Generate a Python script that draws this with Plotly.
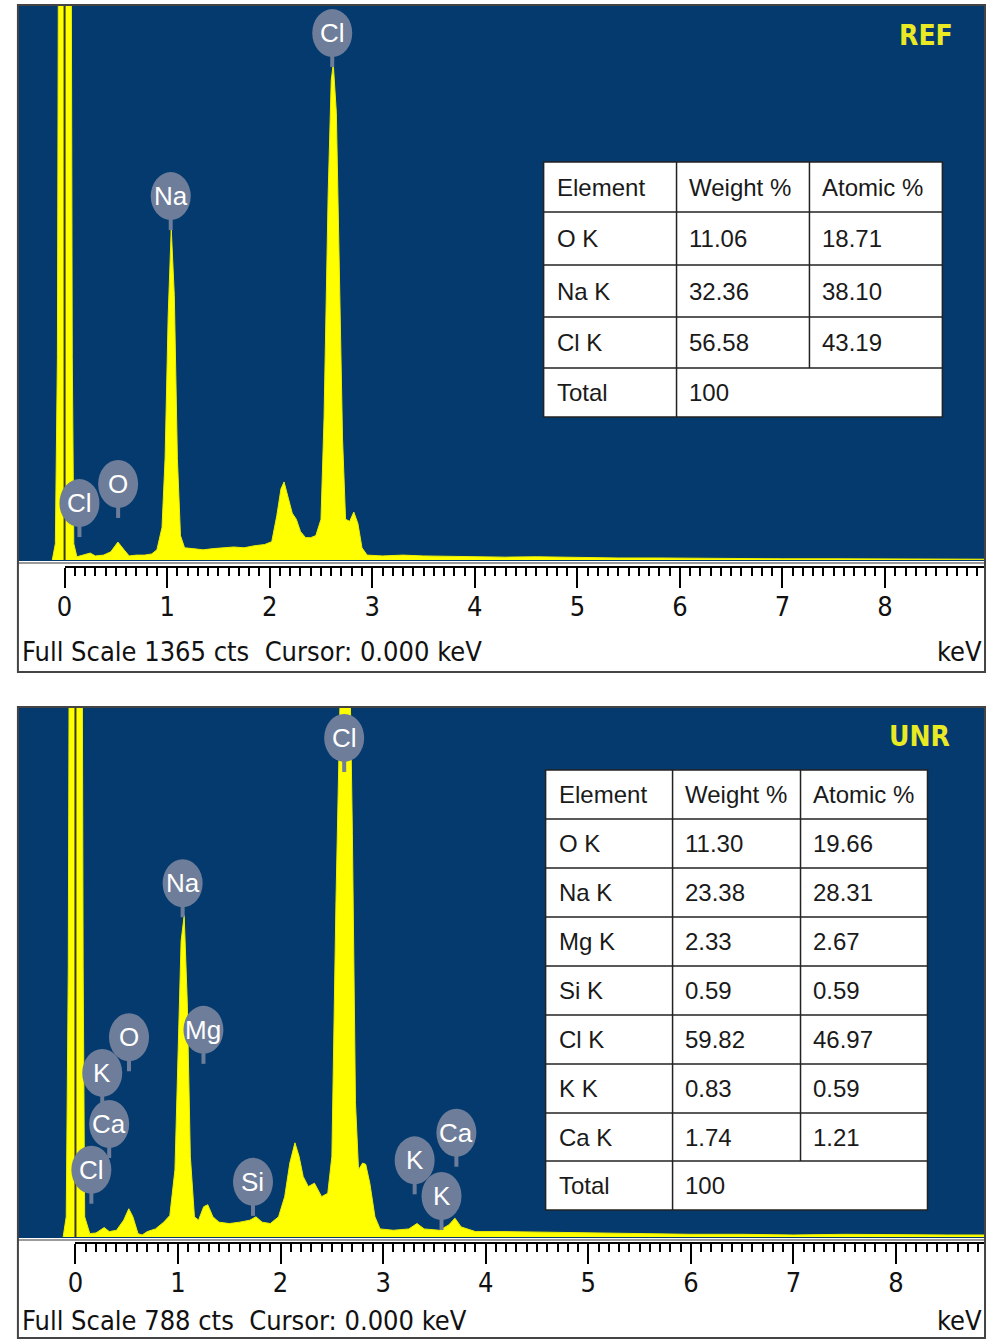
import plotly.graph_objects as go

W, H = 987, 1342

# ---------------- data ----------------
ref_keV = [-0.12, -0.09, -0.07, -0.055, 0.0, 0.06, 0.075, 0.09, 0.12, 0.18, 0.25, 0.30, 0.38, 0.45, 0.52,
           0.58, 0.63, 0.70, 0.78, 0.85, 0.90, 0.95, 0.98, 1.01, 1.04, 1.07, 1.10, 1.13, 1.17, 1.25,
           1.35, 1.45, 1.55, 1.65, 1.75, 1.85, 1.95, 2.02, 2.07, 2.11, 2.14, 2.18, 2.22, 2.26, 2.30,
           2.35, 2.40, 2.45, 2.50, 2.53, 2.57, 2.60, 2.62, 2.65, 2.68, 2.71, 2.74, 2.78, 2.82, 2.86,
           2.90, 2.95, 3.1, 3.3, 3.5, 3.7, 4.0, 4.3, 4.6, 5.0, 5.4, 5.8, 6.2, 6.6, 7.0, 7.5, 8.0, 8.5, 8.97]
ref_cts = [0, 40, 500, 2000, 2000, 2000, 500, 40, 8, 12, 17, 10, 12, 20, 44,
           25, 10, 12, 12, 15, 25, 80, 250, 600, 815, 650, 250, 60, 30, 28,
           25, 28, 30, 32, 30, 35, 38, 45, 110, 175, 192, 150, 115, 100, 70,
           55, 55, 60, 100, 350, 900, 1180, 1220, 1100, 700, 300, 100, 95, 118, 90,
           30, 12, 10, 12, 10, 9, 8, 7, 8, 6, 5, 5, 4, 4, 3, 3, 3, 2, 2]

unr_keV = [-0.12, -0.09, -0.07, -0.055, 0.0, 0.06, 0.075, 0.09, 0.14, 0.20, 0.28, 0.33, 0.40, 0.47, 0.52, 0.56,
           0.61, 0.65, 0.70, 0.78, 0.86, 0.92, 0.97, 1.00, 1.03, 1.06, 1.09, 1.12, 1.16, 1.20, 1.25,
           1.29, 1.34, 1.40, 1.50, 1.60, 1.70, 1.76, 1.82, 1.90, 1.98, 2.04, 2.09, 2.14, 2.18, 2.22,
           2.27, 2.33, 2.40, 2.46, 2.50, 2.54, 2.58, 2.62, 2.66, 2.70, 2.73, 2.76, 2.80, 2.83, 2.87,
           2.92, 2.97, 3.10, 3.25, 3.33, 3.40, 3.55, 3.64, 3.70, 3.76, 3.90, 4.2, 4.6, 5.0, 5.5, 6.0,
           6.5, 7.0, 7.5, 8.0, 8.5, 8.87]
unr_cts = [0, 30, 400, 1200, 1200, 1200, 400, 30, 5, 6, 14, 8, 10, 25, 42, 30,
           5, 3, 8, 12, 22, 32, 100, 280, 440, 478, 350, 120, 30, 25, 45,
           48, 30, 22, 20, 22, 25, 30, 22, 20, 30, 60, 110, 140, 120, 90,
           75, 80, 60, 65, 120, 500, 900, 1100, 1000, 600, 200, 100, 110, 108, 80,
           30, 12, 10, 12, 20, 12, 10, 18, 28, 15, 8, 8, 7, 6, 5, 4,
           4, 3, 4, 3, 3, 3]

tick_values = [0, 1, 2, 3, 4, 5, 6, 7, 8]
tick_labels = ["0", "1", "2", "3", "4", "5", "6", "7", "8"]

table_header = ["Element", "Weight %", "Atomic %"]
ref_elements = ["O K", "Na K", "Cl K"]
ref_weight = ["11.06", "32.36", "56.58"]
ref_atomic = ["18.71", "38.10", "43.19"]
ref_total = "100"

unr_elements = ["O K", "Na K", "Mg K", "Si K", "Cl K", "K K", "Ca K"]
unr_weight = ["11.30", "23.38", "2.33", "0.59", "59.82", "0.83", "1.74"]
unr_atomic = ["19.66", "28.31", "2.67", "0.59", "46.97", "0.59", "1.21"]
unr_total = "100"

ref_lbl = ["Cl", "Na", "Cl", "O"]
ref_lbl_keV = [2.61, 1.035, 0.145, 0.522]
ref_lbl_cts = [1296, 895, 140, 187]

unr_lbl = ["Cl", "Na", "Mg", "O", "Ca", "K", "Cl", "Si", "K", "Ca", "K"]
unr_lbl_keV = [2.62, 1.045, 1.248, 0.522, 0.329, 0.261, 0.155, 1.731, 3.307, 3.714, 3.569]
unr_lbl_cts = [742, 526, 308, 297, 168, 244, 100, 82, 114, 155, 61]

ref_scale = 1365
unr_scale = 788

# ---------------- style ----------------
BG = "#043a6e"
YEL = "#ffff00"
BALLOON = "#6e7d99"
NARROW = "Liberation Sans Narrow, Arial Narrow, DejaVu Sans Condensed, sans-serif"
SANS = "Liberation Sans, Arial, sans-serif"


def fx(px):
    return px / W


def fy(py):
    return 1 - py / H


fig = go.Figure()
shapes = []
annots = []

panels = [
    dict(name="REF", keV=ref_keV, cts=ref_cts, scale=ref_scale, xr=[-0.455, 8.975],
         top=5, base=560, bottom=561, axis_y=567, frame_bot=672, label_y=651,
         xa="x", ya="y", xa_ax="x3", lbl=ref_lbl, lk=ref_lbl_keV, lc=ref_lbl_cts,
         tag_x=925, tag_y=35,
         table=dict(x=[540, 674, 808, 942], y=[162, 212, 265, 317, 368, 417],
                    el=ref_elements, w=ref_weight, a=ref_atomic, tot=ref_total)),
    dict(name="UNR", keV=unr_keV, cts=unr_cts, scale=unr_scale, xr=[-0.561, 8.868],
         top=707, base=1237, bottom=1238, axis_y=1243, frame_bot=1338, label_y=1320,
         xa="x2", ya="y2", xa_ax="x4", lbl=unr_lbl, lk=unr_lbl_keV, lc=unr_lbl_cts,
         tag_x=919, tag_y=736,
         table=dict(x=[542, 670, 799, 927],
                    y=[770, 819, 868, 917, 966, 1015, 1064, 1113, 1161, 1210],
                    el=unr_elements, w=unr_weight, a=unr_atomic, tot=unr_total)),
]

layout_axes = {}
for i, p in enumerate(panels):
    xdom = [fx(10), fx(985)]
    ydom = [fy(p["bottom"]), fy(p["top"])]
    cpp = p["scale"] / (p["base"] - p["top"])
    yr = [-(p["bottom"] - p["base"]) * cpp, p["scale"]]
    xkey = "xaxis" if i == 0 else "xaxis2"
    ykey = "yaxis" if i == 0 else "yaxis2"
    layout_axes[xkey] = dict(domain=xdom, range=p["xr"], visible=False, fixedrange=True,
                             anchor=p["ya"])
    layout_axes[ykey] = dict(domain=ydom, range=yr, visible=False, fixedrange=True,
                             anchor=p["xa"])
    r0, r1 = p["xr"]
    x0frac = xdom[0] + (0 - r0) / (r1 - r0) * (xdom[1] - xdom[0])
    axkey = "xaxis3" if i == 0 else "xaxis4"
    layout_axes[axkey] = dict(domain=[x0frac, xdom[1]], range=[0, r1], anchor="free",
                              position=fy(p["axis_y"]), showline=True, linecolor="black",
                              linewidth=2, ticks="outside", ticklen=20, tickwidth=2,
                              tickcolor="black", tickvals=tick_values, ticktext=tick_labels,
                              tickfont=dict(family=NARROW, size=27, color="#111"),
                              ticklabelstandoff=-4,
                              showgrid=False, zeroline=False, fixedrange=True,
                              minor=dict(tickvals=[k / 10 for k in range(0, 90) if k % 10],
                                         ticks="outside", ticklen=8, tickwidth=1.5,
                                         tickcolor="black", showgrid=False))

    shapes.append(dict(type="rect", xref="paper", yref="paper", x0=xdom[0], x1=xdom[1],
                       y0=ydom[0], y1=ydom[1], fillcolor=BG, line=dict(width=0), layer="below"))

    fig.add_trace(go.Scatter(x=p["keV"], y=p["cts"], xaxis=p["xa"], yaxis=p["ya"], mode="lines",
                             line=dict(color="#eeee00", width=1), fill="tozeroy",
                             fillcolor=YEL, hoverinfo="skip", showlegend=False))
    fig.add_trace(go.Scatter(x=[0], y=[0], xaxis=p["xa_ax"], yaxis=p["ya"], mode="markers",
                             marker=dict(opacity=0), hoverinfo="skip", showlegend=False))

    # cursor line at 0 keV
    shapes.append(dict(type="line", xref=p["xa"], yref=p["ya"], x0=0, x1=0, y0=0, y1=p["scale"],
                       line=dict(color="#3a3a18", width=2), layer="above"))

    shapes.append(dict(type="line", xref="paper", yref="paper", x0=fx(10), x1=fx(985),
                       y0=fy(p["bottom"] + 2), y1=fy(p["bottom"] + 2),
                       line=dict(color="#9a9a9a", width=2)))
    shapes.append(dict(type="rect", xref="paper", yref="paper", x0=fx(10), x1=fx(985),
                       y0=fy(p["frame_bot"]), y1=fy(p["top"]),
                       line=dict(color="#444", width=2)))

    annots.append(dict(xref="paper", yref="paper", x=fx(12), y=fy(p["label_y"]),
                       xanchor="left", yanchor="middle", showarrow=False,
                       text="Full Scale %d cts&nbsp; Cursor: 0.000 keV" % p["scale"],
                       font=dict(family=NARROW, size=27, color="#111")))
    annots.append(dict(xref="paper", yref="paper", x=fx(984), y=fy(p["label_y"]),
                       xanchor="right", yanchor="middle", showarrow=False, text="keV",
                       font=dict(family=NARROW, size=27, color="#111")))

    annots.append(dict(xref="paper", yref="paper", x=fx(p["tag_x"]), y=fy(p["tag_y"]),
                       xanchor="center", yanchor="middle", showarrow=False,
                       text="<b>%s</b>" % p["name"],
                       font=dict(family=NARROW, size=28, color="#e9e924")))

    for t, k, c in zip(p["lbl"], p["lk"], p["lc"]):
        shapes.append(dict(type="rect", xref=p["xa"], yref=p["ya"], xsizemode="pixel",
                           ysizemode="pixel", xanchor=k, yanchor=c, x0=-2, x1=2, y0=-34, y1=-18,
                           fillcolor=BALLOON, line=dict(width=0), layer="above"))
        shapes.append(dict(type="circle", xref=p["xa"], yref=p["ya"], xsizemode="pixel",
                           ysizemode="pixel", xanchor=k, yanchor=c, x0=-20, x1=20, y0=-24, y1=24,
                           fillcolor=BALLOON, line=dict(width=0), layer="above"))
        annots.append(dict(xref=p["xa"], yref=p["ya"], x=k, y=c, showarrow=False, text=t,
                           xanchor="center", yanchor="middle",
                           font=dict(family=SANS, size=26, color="white")))

    tb = p["table"]
    tx, ty = tb["x"], tb["y"]
    shapes.append(dict(type="rect", xref="paper", yref="paper", x0=fx(tx[0]), x1=fx(tx[-1]),
                       y0=fy(ty[-1]), y1=fy(ty[0]), fillcolor="white",
                       line=dict(color="#222", width=1.5), layer="above"))
    for yy in ty[1:-1]:
        shapes.append(dict(type="line", xref="paper", yref="paper", x0=fx(tx[0]), x1=fx(tx[-1]),
                           y0=fy(yy), y1=fy(yy), line=dict(color="#222", width=1.5),
                           layer="above"))
    shapes.append(dict(type="line", xref="paper", yref="paper", x0=fx(tx[1]), x1=fx(tx[1]),
                       y0=fy(ty[-1]), y1=fy(ty[0]), line=dict(color="#222", width=1.5),
                       layer="above"))
    shapes.append(dict(type="line", xref="paper", yref="paper", x0=fx(tx[2]), x1=fx(tx[2]),
                       y0=fy(ty[-2]), y1=fy(ty[0]), line=dict(color="#222", width=1.5),
                       layer="above"))
    rows = [table_header] + [[e, w, a] for e, w, a in zip(tb["el"], tb["w"], tb["a"])] + \
           [["Total", tb["tot"], ""]]
    for r, row in enumerate(rows):
        ymid = (ty[r] + ty[r + 1]) / 2
        for cidx, txt in enumerate(row):
            if not txt:
                continue
            annots.append(dict(xref="paper", yref="paper", x=fx(tx[cidx] + 11), y=fy(ymid),
                               xanchor="left", yanchor="middle", showarrow=False, text=txt,
                               font=dict(family=SANS, size=24, color="#1a1a1a")))

fig.update_layout(width=W, height=H, margin=dict(l=0, r=0, t=0, b=0),
                  paper_bgcolor="white", plot_bgcolor="rgba(0,0,0,0)", showlegend=False,
                  hovermode=False, shapes=shapes, annotations=annots, **layout_axes)

fig.write_html("out.html", config={"displayModeBar": False},
               post_script="document.body.style.margin='0';document.body.style.overflow='hidden';")
